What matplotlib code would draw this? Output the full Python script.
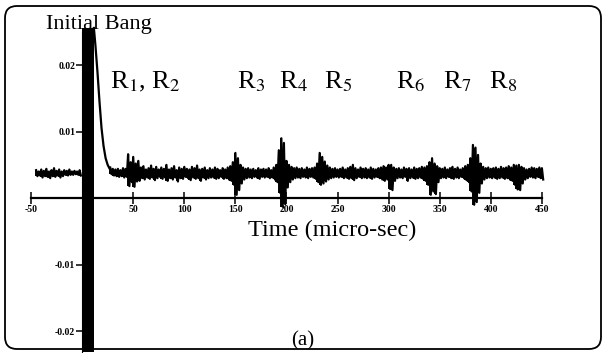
import numpy as np
import matplotlib.pyplot as plt
from matplotlib.patches import FancyBboxPatch

plt.rcParams['font.family'] = ['Liberation Serif', 'DejaVu Serif']
plt.rcParams['mathtext.fontset'] = 'stix'

# trace envelope, values in units of 1e-3 (2.5 us steps)
pre_t = np.arange(-45, 0, 2.5)
pre_hi = [4.2, 4.0, 4.3, 4.1, 4.4, 4.0, 4.2, 4.5, 4.1, 4.3, 4.0, 4.2, 4.1, 4.3, 4.0, 4.1, 4.0, 4.2]
pre_lo = [3.3, 3.4, 3.1, 3.3, 3.2, 3.0, 3.3, 3.2, 3.4, 3.1, 3.3, 3.5, 3.4, 3.5, 3.5, 3.6, 3.5, 3.4]

post_t = np.arange(27.5, 452.5, 2.5)
post_hi = [
    4.6, 4.4, 4.3, 4.4, 4.2, 4.5, 4.4, 6.6, 5.4, 6.2,
    5.2, 5.6, 4.6, 4.8, 4.3, 4.5, 4.9, 4.4, 4.7, 4.3,
    4.6, 4.4, 5.0, 4.3, 4.5, 4.8, 4.2, 4.6, 4.4, 4.7,
    4.4, 4.3, 4.7, 4.5, 4.9, 4.3, 4.4, 4.6, 4.2, 4.5,
    4.3, 4.6, 4.4, 4.2, 4.5, 4.3, 4.6, 4.8, 5.4, 6.8,
    6.0, 5.0, 4.6, 4.4, 4.5, 4.3, 4.4, 4.2, 4.5, 4.3,
    4.4, 4.3, 4.5, 4.2, 4.6, 5.0, 7.2, 9.0, 8.3, 5.6,
    5.0, 4.7, 4.5, 4.6, 4.4, 4.5, 4.3, 4.6, 4.4, 4.5,
    4.6, 5.2, 6.8, 6.2, 5.5, 4.9, 4.6, 4.4, 4.5, 4.3,
    4.4, 4.6, 4.3, 4.5, 4.7, 5.0, 4.5, 4.3, 4.6, 4.4,
    4.5, 4.3, 4.6, 4.4, 4.3, 4.5, 4.6, 4.8, 4.6, 5.0,
    5.0, 4.6, 4.4, 4.5, 4.3, 4.6, 4.4, 4.5, 4.3, 4.6,
    4.4, 4.5, 4.7, 4.6, 4.8, 5.4, 6.0, 5.2, 4.8, 4.5,
    4.4, 4.6, 4.3, 4.5, 4.7, 4.4, 4.6, 4.3, 4.5, 4.8,
    5.0, 6.0, 8.0, 7.6, 6.5, 5.2, 4.7, 4.5, 4.6, 4.4,
    4.5, 4.6, 4.4, 4.7, 4.5, 4.6, 4.8, 4.6, 5.0, 4.9,
    5.0, 4.7, 4.5, 4.3, 4.4, 4.6, 4.5, 4.4, 4.6, 4.5,
]
post_lo = [
    3.6, 3.4, 3.3, 3.2, 3.3, 3.1, 3.2, 1.8, 2.4, 1.7,
    2.5, 2.6, 3.0, 2.8, 3.1, 2.9, 3.1, 2.7, 3.0, 3.2,
    2.9, 3.1, 2.6, 3.0, 2.8, 3.1, 2.5, 3.0, 2.9, 3.2,
    3.0, 2.7, 3.1, 2.9, 3.0, 2.6, 3.1, 2.8, 3.0, 3.1,
    3.1, 2.9, 3.0, 3.2, 2.9, 3.0, 2.8, 2.6, 2.0, 0.5,
    1.2, 2.2, 2.8, 3.0, 3.1, 3.0, 3.2, 3.1, 2.9, 3.2,
    3.1, 3.2, 3.0, 3.1, 2.8, 2.4, 0.8, -1.3, -0.9, 1.6,
    2.4, 2.8, 3.0, 3.1, 3.0, 3.2, 3.1, 3.0, 3.2, 3.1,
    2.9, 2.4, 2.0, 2.2, 2.5, 2.8, 3.0, 3.1, 3.2, 3.1,
    3.2, 3.0, 3.1, 2.9, 3.0, 2.7, 3.0, 3.2, 3.0, 3.1,
    3.0, 3.1, 2.9, 3.1, 3.2, 3.0, 2.8, 2.6, 2.8, 1.4,
    1.2, 2.6, 3.0, 3.1, 3.0, 3.2, 2.6, 3.0, 3.1, 2.9,
    3.0, 3.1, 2.9, 2.6, 2.0, 0.5, 1.0, 0.6, 2.4, 3.0,
    3.1, 3.0, 3.2, 3.0, 2.9, 3.1, 3.0, 3.2, 3.0, 2.7,
    2.4, 1.0, -1.0, -0.6, 0.8, 2.2, 2.8, 3.0, 3.1, 3.0,
    3.1, 2.9, 3.0, 3.1, 2.9, 3.0, 2.8, 2.6, 2.0, 1.3,
    1.2, 2.2, 2.8, 3.0, 3.2, 3.1, 3.0, 3.2, 3.0, 2.8,
]

# initial bang: saturated block, then decay back to baseline (1e-3 units)
bang_t = [-0.3, 12.0]
bang_top = 25.6
bang_bottom = -30.0
decay_t = [11.5, 13, 15, 17, 19, 21, 23, 25, 27, 29]
decay_v = [25.6, 23.0, 19.0, 14.5, 10.5, 7.8, 6.0, 5.0, 4.4, 4.1]

# echo labels: (text, time of left edge, level)
echo_labels = ["R$_1$, R$_2$", "R$_3$", "R$_4$", "R$_5$", "R$_6$", "R$_7$", "R$_8$"]
echo_label_t = [27, 152, 193, 237, 307, 353, 398]
echo_label_v = 16.5

xticks = [-50, 50, 100, 150, 200, 250, 300, 350, 400, 450]
yticks = [-0.02, -0.01, 0.01, 0.02]
yticklabels = ["-0.02", "-0.01", "0.01", "0.02"]

scale = 1e-3

fig = plt.figure(figsize=(6.16, 3.53), dpi=100)
ax = fig.add_axes([29 / 616, 1 / 353, 518 / 616, 332 / 353])
ax.set_xlim(-52, 455)
ax.set_ylim(-0.02316, 0.0268)
ax.patch.set_visible(False)

for t, hi, lo in [(pre_t, pre_hi, pre_lo), (post_t, post_hi, post_lo)]:
    hi = np.array(hi) * scale
    lo = np.array(lo) * scale
    # zigzag between the upper and lower reading of each sample
    zx = np.column_stack([t, t + 1.25]).ravel()
    zy = np.column_stack([hi, lo]).ravel()
    ax.plot(zx, zy, color='black', lw=1.6, zorder=3)
    ax.vlines(t, lo, hi, color='black', lw=1.4, zorder=3)

ax.fill_between(bang_t, bang_bottom * scale, bang_top * scale, color='black', lw=0, zorder=4)
ax.plot(decay_t, np.array(decay_v) * scale, color='black', lw=1.6, zorder=3)

for label, t in zip(echo_labels, echo_label_t):
    ax.text(t, echo_label_v * scale, label, fontsize=19, ha='left', va='baseline')

ax.spines['left'].set_position(('data', 0))
ax.spines['bottom'].set_position(('data', 0))
ax.spines['top'].set_visible(False)
ax.spines['right'].set_visible(False)
ax.spines['bottom'].set_bounds(-50, 450)
ax.spines['bottom'].set_linewidth(1.6)
ax.spines['left'].set_bounds(-0.025, 0.025)

ax.set_xticks(xticks)
ax.set_xticklabels([str(x) for x in xticks], fontsize=7, fontweight='bold')
ax.set_yticks(yticks)
ax.set_yticklabels(yticklabels, fontsize=7, fontweight='bold')
ax.tick_params(axis='x', direction='inout', length=8, width=1.1, pad=1)
ax.tick_params(axis='y', direction='out', length=4, width=1.1, pad=1)

fig.text(46 / 616, 1 - 29 / 353, "Initial Bang", fontsize=16, ha='left', va='baseline')
fig.text(332 / 616, 1 - 230 / 353, "Time (micro-sec)", fontsize=17.5, ha='center', va='center')
fig.text(303 / 616, 1 - 341 / 353, "(a)", fontsize=15, ha='center', va='center')

frame = FancyBboxPatch((0.05, 0.04), 5.96, 3.43,
                       boxstyle="round,pad=0,rounding_size=0.12",
                       transform=fig.dpi_scale_trans, fill=False,
                       edgecolor='black', lw=1.3)
fig.patches.append(frame)

fig.savefig("out.png", dpi=100)
